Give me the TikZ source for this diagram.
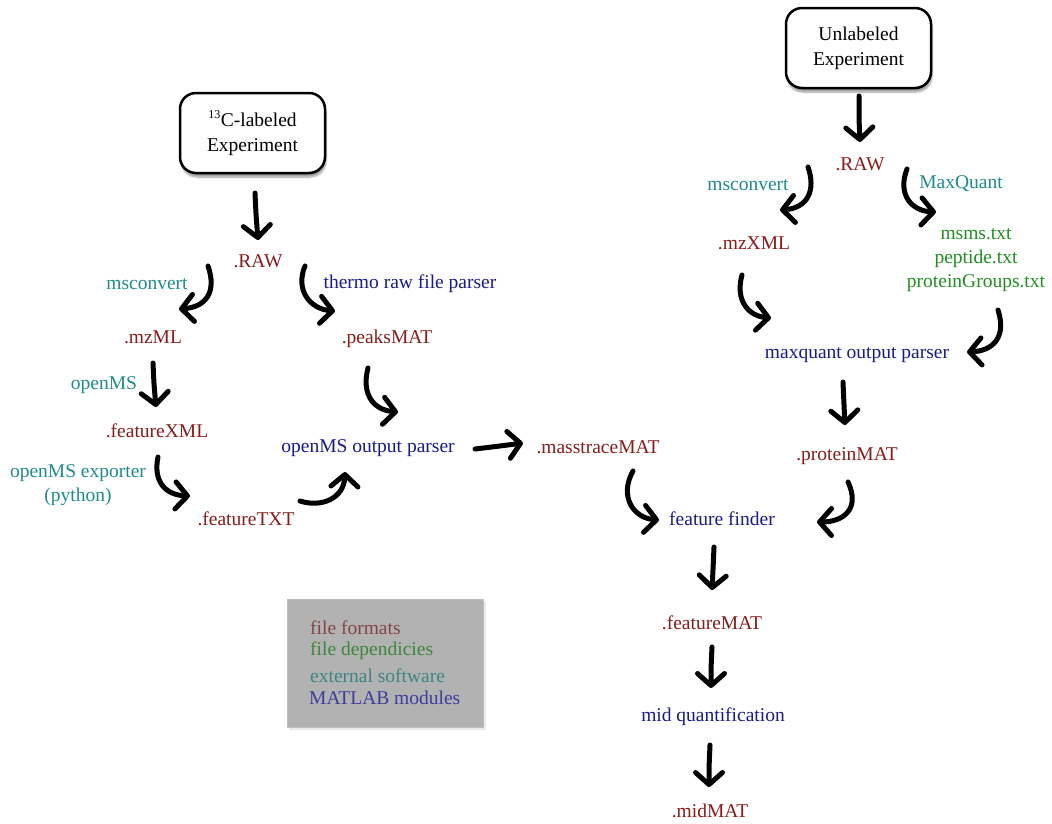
\documentclass[tikz,border=0pt]{standalone}
\usepackage{fontspec}
\setmainfont{Liberation Serif}
\usetikzlibrary{arrows.meta,shadows.blur}
\definecolor{fmt}{HTML}{8B1A1A}
\definecolor{ext}{HTML}{1F8C8C}
\definecolor{mod}{HTML}{1A1A8F}
\definecolor{dep}{HTML}{1F8F1F}
\tikzset{
  lbl/.style={inner sep=0pt,font=\fontsize{19.5}{24}\selectfont,align=center},
  fmtlbl/.style={lbl,text=fmt},
  extlbl/.style={lbl,text=ext},
  modlbl/.style={lbl,text=mod},
  deplbl/.style={lbl,text=dep},
  expbox/.style={draw=black,line width=2.5pt,rounded corners=16pt,fill=white,
    minimum width=145pt,minimum height=80pt,font=\fontsize{19.5}{25}\selectfont,align=center,
    blur shadow={shadow xshift=1pt,shadow yshift=-4pt,shadow blur steps=8,shadow opacity=40}},
  flow/.style={line width=5pt,line cap=round,line join=round,
    -{Straight Barb[length=12pt,width=27pt,line width=5pt,round]}},
}
\begin{document}
\begin{tikzpicture}[x=1pt,y=-1pt]
\useasboundingbox (0,0) rectangle (1052,823);

% experiment boxes
\node[expbox] (labexp) at (252.5,133) {\textsuperscript{\fontsize{12}{12}\selectfont 13}C-labeled\\Experiment};
\node[expbox] (unlexp) at (858.5,48) {Unlabeled\\Experiment};

% labeled branch
\node[fmtlbl] (rawL) at (258,261) {.RAW};
\node[extlbl] (msconvL) at (147,284) {msconvert};
\node[modlbl] (thermo) at (410,284) {thermo raw file parser};
\node[fmtlbl] (mzml) at (153,337) {.mzML};
\node[fmtlbl] (peaks) at (387,339) {.peaksMAT};
\node[extlbl] (openms) at (104,385) {openMS};
\node[fmtlbl] (fxml) at (157,431) {.featureXML};
\node[extlbl] (exporter) at (78,485) {openMS exporter\\(python)};
\node[fmtlbl] (ftxt) at (246,519) {.featureTXT};
\node[modlbl] (omsparser) at (368,448) {openMS output parser};
\node[fmtlbl] (mtrace) at (598,447) {.masstraceMAT};

% unlabeled branch
\node[fmtlbl] (rawR) at (860,164) {.RAW};
\node[extlbl] (msconvR) at (748,185) {msconvert};
\node[extlbl] (mq) at (961,184) {MaxQuant};
\node[fmtlbl] (mzxml) at (754,243) {.mzXML};
\node[deplbl] (mqfiles) at (976,260) {msms.txt\\peptide.txt\\proteinGroups.txt};
\node[modlbl] (mqparser) at (857,355) {maxquant output parser};
\node[fmtlbl] (protein) at (847,456) {.proteinMAT};

% merged part
\node[modlbl] (ffinder) at (722,519) {feature finder};
\node[fmtlbl] (fmat) at (712,623) {.featureMAT};
\node[modlbl] (midq) at (713,717) {mid quantification};
\node[fmtlbl] (midmat) at (710,811) {.midMAT};

% legend
\fill[black!8] (289,601) rectangle (486,730);
\node[draw=black!25,line width=0.6pt,fill=black!30,minimum width=196pt,minimum height=128pt,inner sep=0pt] (legend) at (385,663) {};
\node[lbl,anchor=west,text=fmt!75!black!80!white] (lgfmt) at (310,628) {file formats};
\node[lbl,anchor=west,text=dep!80!black!85!white] (lgdep) at (310,651) {file dependicies};
\node[lbl,anchor=west,text=ext!80!black!85!white] (lgext) at (310,676) {external software};
\node[lbl,anchor=west,text=mod!85!white] (lgmod) at (309,698) {MATLAB modules};

% arrow end points
\coordinate (a1s) at (255,193);   \coordinate (a1e) at (258,240);
\coordinate (a2s) at (208,266);   \coordinate (a2e) at (179,309);
\coordinate (a3s) at (305,266);   \coordinate (a3e) at (335,311);
\coordinate (a4s) at (153,363);   \coordinate (a4e) at (156,407);
\coordinate (a5s) at (158,457);   \coordinate (a5e) at (190,496);
\coordinate (a6s) at (300,501);   \coordinate (a6e) at (345,472);
\coordinate (a7s) at (368,368);   \coordinate (a7e) at (398,412);
\coordinate (a8s) at (475,449);   \coordinate (a8e) at (523,443);
\coordinate (b1s) at (859,96);    \coordinate (b1e) at (860,142);
\coordinate (b2s) at (808,167);   \coordinate (b2e) at (780,210);
\coordinate (b3s) at (907,169);   \coordinate (b3e) at (936,212);
\coordinate (b4s) at (742,275);   \coordinate (b4e) at (771,318);
\coordinate (b5s) at (998,310);   \coordinate (b5e) at (967,352);
\coordinate (b6s) at (843,382);   \coordinate (b6e) at (845,425);
\coordinate (c1s) at (633,471);   \coordinate (c1e) at (659,520);
\coordinate (c2s) at (848,482);   \coordinate (c2e) at (817,522);
\coordinate (c3s) at (714,547);   \coordinate (c3e) at (712,590);
\coordinate (c4s) at (712,647);   \coordinate (c4e) at (711,688);
\coordinate (c5s) at (710,745);   \coordinate (c5e) at (709,787);

% hand drawn flow arrows
\draw[flow] (a1s) .. controls (256,215) .. (a1e);
\draw[flow] (a2s) .. controls (217,292) and (206,307) .. (a2e);
\draw[flow] (a3s) .. controls (295,290) and (310,309) .. (a3e);
\draw[flow] (a4s) .. controls (154,385) .. (a4e);
\draw[flow] (a5s) .. controls (153,481) and (165,495) .. (a5e);
\draw[flow] (a6s) .. controls (322,508) and (344,498) .. (a6e);
\draw[flow] (a7s) .. controls (361,395) and (374,410) .. (a7e);
\draw[flow] (a8s) .. controls (500,446) .. (a8e);
\draw[flow] (b1s) .. controls (859,120) .. (b1e);
\draw[flow] (b2s) .. controls (816,190) and (808,208) .. (b2e);
\draw[flow] (b3s) .. controls (897,195) and (912,211) .. (b3e);
\draw[flow] (b4s) .. controls (735,300) and (748,316) .. (b4e);
\draw[flow] (b5s) .. controls (1007,338) and (992,351) .. (b5e);
\draw[flow] (b6s) .. controls (844,405) .. (b6e);
\draw[flow] (c1s) .. controls (619,496) and (633,518) .. (c1e);
\draw[flow] (c2s) .. controls (861,510) and (842,522) .. (c2e);
\draw[flow] (c3s) .. controls (713,570) .. (c3e);
\draw[flow] (c4s) .. controls (711,668) .. (c4e);
\draw[flow] (c5s) .. controls (709,767) .. (c5e);
\end{tikzpicture}
\end{document}
